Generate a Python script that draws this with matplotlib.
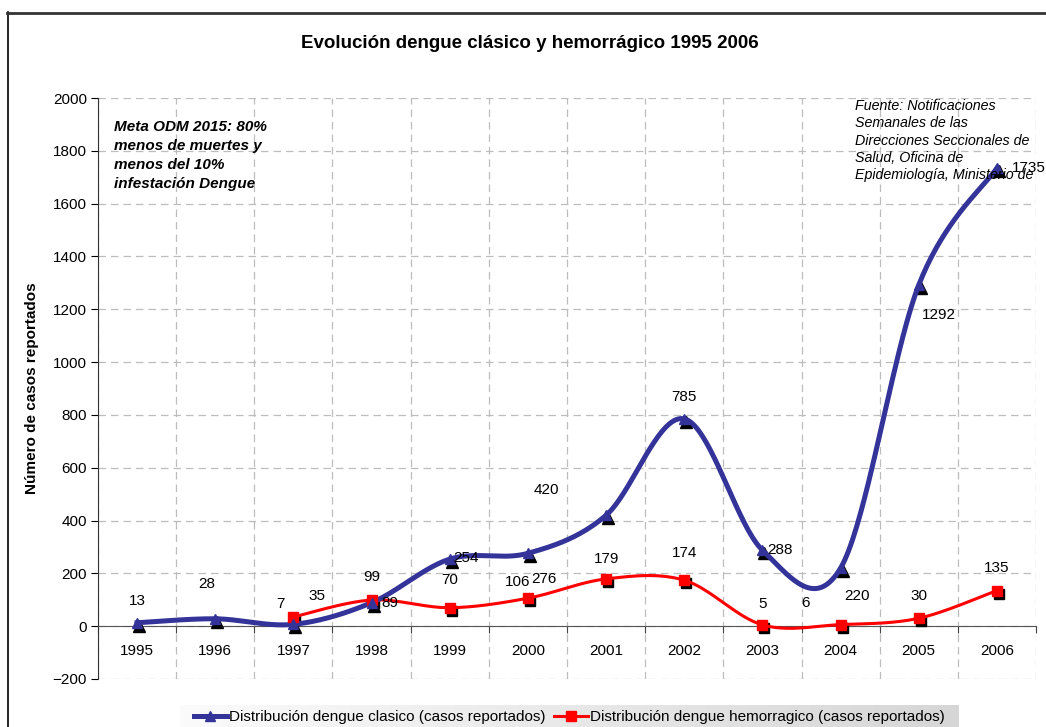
import numpy as np
import matplotlib
matplotlib.use("Agg")
import matplotlib.pyplot as plt
from matplotlib import transforms
from matplotlib.lines import Line2D

plt.rcParams['font.family'] = ['Liberation Sans', 'DejaVu Sans']

years = ['1995', '1996', '1997', '1998', '1999', '2000', '2001', '2002', '2003', '2004', '2005', '2006']
clasico = [13, 28, 7, 89, 254, 276, 420, 785, 288, 220, 1292, 1735]
hemo_years = ['1997', '1998', '1999', '2000', '2001', '2002', '2003', '2004', '2005', '2006']
hemorragico = [35, 99, 70, 106, 179, 174, 5, 6, 30, 135]

title = 'Evolución dengue clásico y hemorrágico 1995 2006'
ylabel = 'Número de casos reportados'
label_clasico = 'Distribución dengue clasico (casos reportados)'
label_hemo = 'Distribución dengue hemorragico (casos reportados)'
note_left = 'Meta ODM 2015: 80%\nmenos de muertes y\nmenos del 10%\ninfestación Dengue'
note_right = ('Fuente: Notificaciones\nSemanales de las\nDirecciones Seccionales de\n'
              'Salud, Oficina de\nEpidemiología, Ministerio de')

# label offsets in pixels (dx, dy) relative to each point
off_clasico = [(0, 22), (-8, 35), (-13, 20), (18, 0), (16, 1), (16, -26), (-60, 25), (0, 22), (18, 0), (16, -28), (20, -30), (32, 0)]
off_hemo = [(24, 21), (0, 23), (0, 28), (-10, 16), (0, 20), (0, 27), (0, 21), (-35, 22), (0, 22), (0, 23)]


def catmull(xs, ys, n=40):
    xs = np.asarray(xs, float)
    ys = np.asarray(ys, float)
    px = np.concatenate([[xs[0]], xs, [xs[-1]]])
    py = np.concatenate([[ys[0]], ys, [ys[-1]]])
    ox, oy = [], []
    t = np.linspace(0, 1, n)
    for i in range(1, len(px) - 2):
        for p, out in ((px, ox), (py, oy)):
            p0, p1, p2, p3 = p[i - 1], p[i], p[i + 1], p[i + 2]
            m1 = (p2 - p0) / 2
            m2 = (p3 - p1) / 2
            h00 = 2 * t**3 - 3 * t**2 + 1
            h10 = t**3 - 2 * t**2 + t
            h01 = -2 * t**3 + 3 * t**2
            h11 = t**3 - t**2
            out.extend(h00 * p1 + h10 * m1 + h01 * p2 + h11 * m2)
    return np.array(ox), np.array(oy)


fig = plt.figure(figsize=(10.46, 7.27), dpi=100)
ax = fig.add_axes([98 / 1046, 1 - 679 / 727, (1036 - 98) / 1046, (679 - 98) / 727])

xc = np.arange(len(years))
xh = np.array([years.index(y) for y in hemo_years])

ax.set_xlim(-0.5, len(years) - 0.5)
ax.set_ylim(-200, 2000)
ax.set_yticks(np.arange(-200, 2001, 200))
ax.set_xticks(np.arange(-0.5, len(years), 1.0))
ax.set_xticklabels([])
ax.set_xticks(xc, minor=True)
ax.set_xticklabels(years, minor=True)
ax.tick_params(axis='x', which='major', length=5, direction='out', color='#444444')
ax.tick_params(axis='x', which='minor', length=0, pad=13, labelsize=11)
ax.tick_params(axis='y', length=5, direction='out', pad=3, labelsize=11)

ax.grid(True, which='major', color='#bdbdbd', linestyle=(0, (6, 4)), linewidth=0.9)
ax.set_axisbelow(True)
for s in ('top', 'right'):
    ax.spines[s].set_visible(False)
ax.spines['bottom'].set_position(('data', 0))
ax.spines['bottom'].set_color('#555555')
ax.spines['left'].set_color('#333333')

shadow = transforms.offset_copy(ax.transData, fig=fig, x=2 / 100, y=-3 / 100, units='inches')

bx, by = catmull(xc, clasico)
rx, ry = catmull(xh, hemorragico)

ax.plot(xh, hemorragico, 's', color='black', ms=7.5, transform=shadow, zorder=3)
ax.plot(xc, clasico, '^', color='black', ms=8, transform=shadow, zorder=3)
ax.plot(rx, ry, '-', color='#ff0000', lw=2.2, zorder=4)
ax.plot(bx, by, '-', color='#333399', lw=3.6, zorder=5)
ax.plot(xh, hemorragico, 's', color='#ff0000', ms=7.5, zorder=6)
ax.plot(xc, clasico, '^', color='#333399', ms=7, zorder=6)

for x, v, (dx, dy) in zip(xc, clasico, off_clasico):
    ax.annotate(str(v), (x, v), xytext=(dx, dy), textcoords='offset pixels',
                ha='center', va='center', fontsize=11, zorder=7)
for x, v, (dx, dy) in zip(xh, hemorragico, off_hemo):
    ax.annotate(str(v), (x, v), xytext=(dx, dy), textcoords='offset pixels',
                ha='center', va='center', fontsize=11, zorder=7)

ax.set_ylabel(ylabel, fontsize=11, fontweight='bold', labelpad=10)

fig.text(530 / 1046, 1 - 44 / 727, title, ha='center', va='center', fontsize=13.5, fontweight='bold')
fig.text(114 / 1046, 1 - 120 / 727, note_left, ha='left', va='top', fontsize=11,
         fontweight='bold', style='italic', linespacing=1.45)
fig.text(855 / 1046, 1 - 99 / 727, note_right, ha='left', va='top', fontsize=10.3,
         style='italic', linespacing=1.3)

# legend background gradient
lax = fig.add_axes([180 / 1046, 0, 778 / 1046, 22 / 727], zorder=0)
grad = np.linspace(0, 1, 256).reshape(1, -1)
lax.imshow(grad, aspect='auto', cmap=matplotlib.colors.LinearSegmentedColormap.from_list(
    'g', ['#fbfbfb', '#d6d6d6']), extent=(0, 1, 0, 1))
lax.set_axis_off()

handles = [Line2D([], [], color='#333399', lw=3.6, marker='^', ms=7),
           Line2D([], [], color='#ff0000', lw=2.2, marker='s', ms=6.5)]
leg = fig.legend(handles, [label_clasico, label_hemo], loc='center', ncol=2,
                 bbox_to_anchor=(569 / 1046, 1 - 717 / 727), frameon=False, fontsize=11,
                 handlelength=2.2, handletextpad=0.1, columnspacing=0.6,
                 borderpad=0.3)
leg.set_zorder(5)

fig.add_artist(Line2D([7.5 / 1046, 7.5 / 1046], [0, 1 - 12 / 727], color='black', lw=1.2,
                      transform=fig.transFigure))
fig.add_artist(Line2D([7 / 1046, 1], [1 - 12.5 / 727, 1 - 12.5 / 727], color='#333333', lw=2,
                      transform=fig.transFigure))

fig.savefig('out.png', dpi=100)
